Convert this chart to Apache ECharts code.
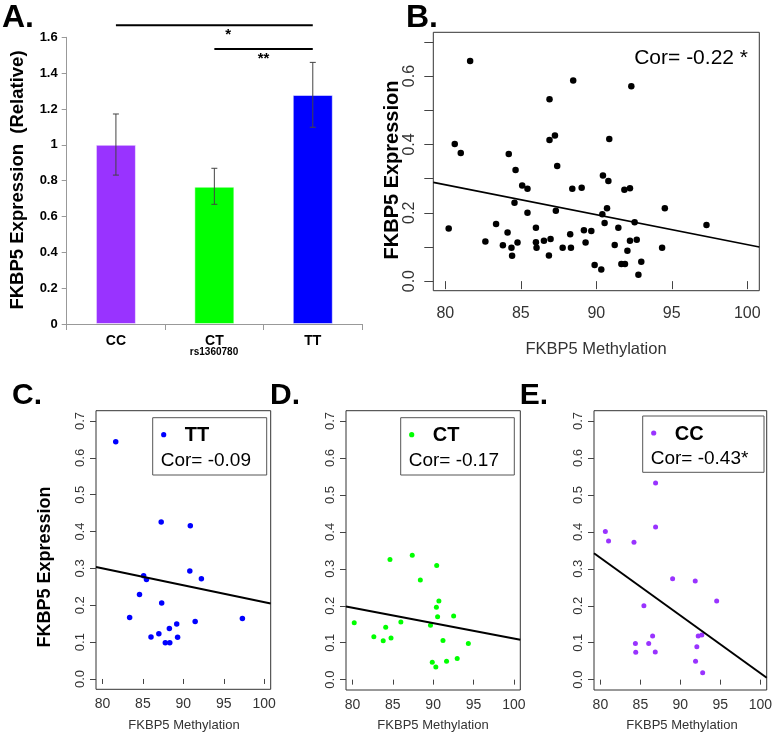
<!DOCTYPE html>
<html lang="en">
<head>
<meta charset="UTF-8">
<title>FKBP5 expression and methylation</title>
<script src="https://cdn.jsdelivr.net/npm/echarts@6/dist/echarts.min.js"></script>
<style>html,body{margin:0;padding:0;background:#fff;}</style>
</head>
<body>
<div id="main" style="width:775px;height:737px;"></div>
<script type="text/javascript">
// ---- panel A: expression by genotype ----
var genotypes = ['CC', 'CT', 'TT'];
var exprMean = [1.0, 0.766, 1.278];
var exprLow = [0.831, 0.668, 1.098];
var exprHigh = [1.172, 0.869, 1.46];
var barColors = ['#9933ff', '#00ff00', '#0000ff'];
// significance brackets
var sigFrom = [0, 1];
var sigTo = [2, 2];
var sigLevel = [1.667, 1.535];
var sigStars = ['*', '**'];
var sigStarPos = [0.57, 0.5];

// ---- panels B-E: methylation vs expression, one array per genotype ----
var ttPts = [[81.64,0.644],[87.26,0.426],[90.86,0.416],[90.80,0.293],[92.23,0.272],[85.09,0.280],[85.44,0.270],[84.58,0.229],[87.32,0.206],[83.36,0.167],[97.30,0.164],[91.46,0.156],[89.18,0.149],[88.27,0.137],[86.97,0.123],[86.00,0.114],[89.29,0.113],[87.77,0.098],[88.32,0.098]];
var ctPts = [[80.22,0.154],[82.65,0.116],[83.81,0.105],[84.12,0.142],[84.78,0.113],[84.65,0.325],[86.00,0.156],[87.41,0.337],[88.41,0.270],[90.44,0.309],[90.71,0.213],[90.40,0.196],[90.55,0.170],[89.67,0.147],[92.54,0.172],[89.89,0.047],[90.33,0.034],[91.22,0.106],[91.66,0.050],[92.98,0.057],[94.36,0.098]];
var ccPts = [[80.62,0.401],[81.02,0.375],[84.20,0.372],[86.90,0.532],[86.90,0.413],[89.03,0.273],[91.86,0.267],[94.54,0.213],[85.44,0.200],[84.38,0.098],[84.42,0.074],[86.04,0.098],[86.53,0.118],[86.86,0.075],[92.23,0.118],[92.68,0.121],[92.06,0.089],[91.90,0.050],[92.79,0.019]];
var otherPts = [[88.47,0.587],[92.32,0.570]];

// regression lines (ends at the plot edges)
var fitAll = [[79.2,0.289],[100.8,0.100]];
var fitTT = [[79.2,0.304],[100.8,0.205]];
var fitCT = [[79.2,0.198],[100.8,0.108]];
var fitCC = [[79.2,0.342],[100.8,0.005]];

var corAll = 'Cor= -0.22 *';
var corTT = 'Cor= -0.09';
var corCT = 'Cor= -0.17';
var corCC = 'Cor= -0.43*';

var methTicks = [80, 85, 90, 95, 100];
var exprTicks = [0, 0.1, 0.2, 0.3, 0.4, 0.5, 0.6, 0.7];
var exprLabelsB = [0, 0.2, 0.4, 0.6];

var FONT = 'Liberation Sans, Arial, sans-serif';
var allPts = ttPts.concat(ctPts, ccPts, otherPts);

var myChart = echarts.init(document.getElementById('main'));

function methAxis(gi, fs, margin, tickLen) {
  return {
    type: 'value', gridIndex: gi, min: 79.2, max: 100.8,
    axisLine: {show: false},
    axisTick: {show: true, customValues: methTicks, length: tickLen, lineStyle: {color: '#444'}},
    axisLabel: {customValues: methTicks, fontSize: fs, color: '#333', margin: margin, fontFamily: FONT},
    splitLine: {show: false}
  };
}
function exprAxis(gi, labels, fs, margin, tickLen) {
  return {
    type: 'value', gridIndex: gi, min: -0.028, max: 0.728,
    axisLine: {show: false},
    axisTick: {show: true, customValues: exprTicks, length: tickLen, lineStyle: {color: '#444'}},
    axisLabel: {customValues: labels, fontSize: fs, color: '#333', margin: margin, rotate: 90,
      fontFamily: FONT, formatter: function (v) { return v.toFixed(1); }},
    splitLine: {show: false}
  };
}
function dots(gi, pts, color, size) {
  return {type: 'scatter', xAxisIndex: gi, yAxisIndex: gi, data: pts, symbolSize: size,
    itemStyle: {color: color, opacity: 1}, silent: true};
}
function fitLine(gi, pts, w) {
  return {type: 'line', xAxisIndex: gi, yAxisIndex: gi, data: pts, symbol: 'none',
    lineStyle: {color: '#000', width: w}, silent: true};
}
function txt(x, y, s, size, weight, color, align, rot) {
  return {type: 'text', x: x, y: y, rotation: rot || 0, silent: true,
    style: {text: s, fontSize: size, fontWeight: weight || 'normal', fontFamily: FONT,
      fill: color || '#000', align: align || 'center', verticalAlign: 'middle'}};
}
function legendBox(x, y, w, h, color, name, cor) {
  return {type: 'group', x: x, y: y, children: [
    {type: 'rect', shape: {x: 0, y: 0, width: w, height: h}, style: {fill: '#fff', stroke: '#555', lineWidth: 1}},
    {type: 'circle', shape: {cx: 11, cy: 17, r: 2.6}, style: {fill: color}},
    txt(32, 18, name, 20, 'bold', '#000', 'left'),
    txt(8, 43, cor, 19, 'normal', '#000', 'left')
  ]};
}

var gridBox = {show: true, borderColor: '#333', borderWidth: 1, backgroundColor: 'transparent'};

var option = {
  animation: false,
  textStyle: {fontFamily: FONT},
  grid: [
    {left: 66.7, top: 37.3, width: 295.3, height: 286.7},
    Object.assign({left: 433.3, top: 32.3, width: 326, height: 258.4}, gridBox),
    Object.assign({left: 96, top: 410.7, width: 174.7, height: 278.6}, gridBox),
    Object.assign({left: 346, top: 410.7, width: 174.3, height: 279.3}, gridBox),
    Object.assign({left: 594, top: 410.7, width: 176, height: 279.3}, gridBox)
  ],
  xAxis: [
    {type: 'category', gridIndex: 0, data: genotypes,
      axisLine: {lineStyle: {color: '#999'}},
      axisTick: {show: true, length: 6, lineStyle: {color: '#999'}},
      axisLabel: {fontSize: 14, fontWeight: 'bold', color: '#000', margin: 10}},
    methAxis(1, 16, 15, 8),
    methAxis(2, 14, 8, 5),
    methAxis(3, 14, 8, 5),
    methAxis(4, 14, 8, 5)
  ],
  yAxis: [
    {type: 'value', gridIndex: 0, min: 0, max: 1.6, interval: 0.2,
      axisLine: {show: true, lineStyle: {color: '#999'}},
      axisTick: {show: true, length: 5, lineStyle: {color: '#999'}},
      axisLabel: {fontSize: 13, fontWeight: 'bold', color: '#000', margin: 9,
        formatter: function (v) { return String(Math.round(v * 10) / 10); }},
      splitLine: {show: false}},
    exprAxis(1, exprLabelsB, 16, 16, 9),
    exprAxis(2, exprTicks, 13, 9, 6),
    exprAxis(3, exprTicks, 13, 9, 6),
    exprAxis(4, exprTicks, 13, 9, 6)
  ],
  series: [
    {type: 'bar', xAxisIndex: 0, yAxisIndex: 0, barWidth: 40, silent: true, z: 2,
      data: exprMean.map(function (v, i) {
        return {value: v, itemStyle: {color: barColors[i], borderColor: 'rgba(255,255,255,0.5)', borderWidth: 1}};
      })},
    {type: 'custom', xAxisIndex: 0, yAxisIndex: 0, silent: true, clip: false, z: 5,
      data: genotypes.map(function (g, i) { return [i, exprLow[i], exprHigh[i]]; }),
      encode: {x: 0, y: [1, 2]},
      renderItem: function (params, api) {
        var i = api.value(0);
        var lo = api.coord([i, api.value(1)]);
        var hi = api.coord([i, api.value(2)]);
        var s = {stroke: '#444', lineWidth: 1};
        return {type: 'group', children: [
          {type: 'line', shape: {x1: lo[0], y1: lo[1], x2: hi[0], y2: hi[1]}, style: s},
          {type: 'line', shape: {x1: lo[0] - 3, y1: lo[1], x2: lo[0] + 3, y2: lo[1]}, style: s},
          {type: 'line', shape: {x1: hi[0] - 3, y1: hi[1], x2: hi[0] + 3, y2: hi[1]}, style: s}
        ]};
      }},
    {type: 'custom', xAxisIndex: 0, yAxisIndex: 0, silent: true, clip: false, z: 5,
      data: sigFrom.map(function (f, i) { return [f, sigTo[i], sigLevel[i]]; }),
      encode: {x: [0, 1], y: 2},
      renderItem: function (params, api) {
        var a = api.coord([api.value(0), api.value(2)]);
        var b = api.coord([api.value(1), api.value(2)]);
        var k = params.dataIndex;
        var sx = a[0] + (b[0] - a[0]) * sigStarPos[k];
        return {type: 'group', children: [
          {type: 'line', shape: {x1: a[0], y1: a[1], x2: b[0], y2: b[1]}, style: {stroke: '#000', lineWidth: 2}},
          {type: 'text', x: sx, y: a[1] + 10, style: {text: sigStars[k], fontSize: 15, fontWeight: 'bold',
            fontFamily: FONT, fill: '#000', align: 'center', verticalAlign: 'middle'}}
        ]};
      }},
    dots(1, allPts, '#000', 6.5),
    fitLine(1, fitAll, 1.6),
    dots(2, ttPts, '#0000ff', 5.5),
    fitLine(2, fitTT, 2),
    dots(3, ctPts, '#00ff00', 5),
    fitLine(3, fitCT, 2),
    dots(4, ccPts, '#9933ff', 5),
    fitLine(4, fitCC, 2)
  ],
  graphic: [
    txt(2, 18, 'A.', 32, 'bold', '#000', 'left'),
    txt(18, 180, 'FKBP5 Expression  (Relative)', 18.5, 'bold', '#000', 'center', Math.PI / 2),
    txt(214, 352, 'rs1360780', 10, 'bold', '#000'),
    txt(422, 18, 'B.', 32, 'bold', '#000', 'center'),
    txt(392, 170, 'FKBP5 Expression', 20, 'bold', '#000', 'center', Math.PI / 2),
    txt(596, 349, 'FKBP5 Methylation', 16.5, 'normal', '#333'),
    txt(748, 58, corAll, 21, 'normal', '#000', 'right'),
    txt(27, 396, 'C.', 30, 'bold', '#000'),
    txt(285, 396, 'D.', 30, 'bold', '#000'),
    txt(534, 396, 'E.', 30, 'bold', '#000'),
    txt(45, 567, 'FKBP5 Expression', 18, 'bold', '#000', 'center', Math.PI / 2),
    txt(184, 725, 'FKBP5 Methylation', 13, 'normal', '#333'),
    txt(433, 725, 'FKBP5 Methylation', 13, 'normal', '#333'),
    txt(682, 725, 'FKBP5 Methylation', 13, 'normal', '#333'),
    legendBox(152.7, 417.7, 114, 57.3, '#0000ff', 'TT', corTT),
    legendBox(400.7, 417.7, 113.6, 57.3, '#00ff00', 'CT', corCT),
    legendBox(642.7, 416, 121.3, 56.3, '#9933ff', 'CC', corCC)
  ]
};

myChart.setOption(option);
</script>
</body>
</html>
